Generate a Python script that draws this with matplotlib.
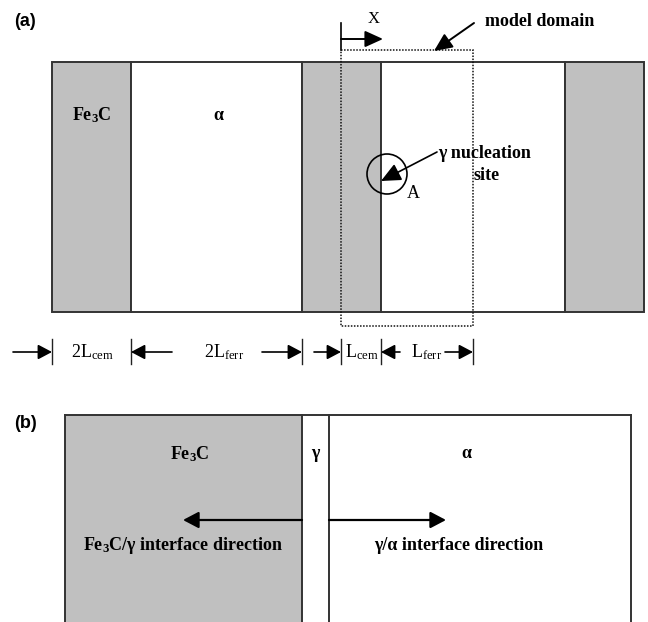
import matplotlib
matplotlib.use("Agg")
import matplotlib.pyplot as plt
from matplotlib.patches import Rectangle, Circle

plt.rcParams['mathtext.fontset'] = 'custom'
plt.rcParams['mathtext.rm'] = 'Liberation Serif'
plt.rcParams['mathtext.it'] = 'Liberation Serif:italic'
plt.rcParams['mathtext.bf'] = 'Liberation Serif:bold'

SERIF = 'Liberation Serif'
SANS = 'Liberation Sans'
GREY = '#c0c0c0'
EDGE = '#333333'

# ---- panel (a): lamellar structure (schematic coordinates) ----
a_bounds = [52, 131, 302, 381, 565, 644]
a_phase_is_cem = [True, False, True, False, True]
a_top, a_bot = 62, 312
a_labels = [r'$\mathbf{Fe_3C}$', 'α']
a_label_x = [92, 218]
a_label_y = 115

# model domain
dom_x = [341, 473]
dom_y = [50, 326]

# nucleation site
site_xy = (387, 174)
site_r = 20

# dimension row
dim_ticks = [52, 131, 302, 341, 381, 473]
dim_labels = [r'$2\mathrm{L}_{\mathrm{cem}}$', r'$2\mathrm{L}_{\mathrm{ferr}}$',
              r'$\mathrm{L}_{\mathrm{cem}}$', r'$\mathrm{L}_{\mathrm{ferr}}$']
dim_label_x = [92, 224, 362, 427]
dim_arrows = [(13, 52), (172, 131), (262, 302), (314, 341), (400, 381), (445, 473)]
dim_y = 352

# ---- panel (b) ----
b_bounds = [65, 302, 329, 631]
b_top, b_bot = 415, 640
b_labels = [r'$\mathbf{Fe_3C}$', 'γ', 'α']
b_label_x = [190, 315, 466]
b_label_y = 454
b_arrows = [(302, 183), (329, 446)]
b_arrow_y = 520
b_texts = [r'$\mathbf{Fe_3C}$/γ interface direction', 'γ/α interface direction']
b_text_x = [183, 459]
b_text_y = 545

fig = plt.figure(figsize=(6.48, 6.22), dpi=100)
ax = fig.add_axes([0, 0, 1, 1])
ax.set_xlim(0, 648)
ax.set_ylim(622, 0)
ax.axis('off')


def arrow(x0, y0, x1, y1, hl=0.95, hw=0.5, lw=1.4):
    ax.annotate('', xy=(x1, y1), xytext=(x0, y0),
                arrowprops=dict(arrowstyle=f'-|>,head_length={hl},head_width={hw}',
                                lw=lw, color='black', shrinkA=0, shrinkB=0,
                                mutation_scale=10))


# panel (a) blocks
for i in range(len(a_bounds) - 1):
    x0, x1 = a_bounds[i], a_bounds[i + 1]
    ax.add_patch(Rectangle((x0, a_top), x1 - x0, a_bot - a_top,
                           facecolor=GREY if a_phase_is_cem[i] else 'white',
                           edgecolor=EDGE, lw=1.4, zorder=1))

for lab, x in zip(a_labels, a_label_x):
    ax.text(x, a_label_y, lab, family=SERIF, fontweight='bold', fontsize=13,
            ha='center', va='center')

# model domain dotted box
ax.add_patch(Rectangle((dom_x[0], dom_y[0]), dom_x[1] - dom_x[0], dom_y[1] - dom_y[0],
                       fill=False, edgecolor='#111111', lw=1.1, linestyle=(0, (1, 1)), zorder=3))

# X arrow
ax.plot([dom_x[0], dom_x[0]], [23, dom_y[0]], color='black', lw=1.2)
arrow(dom_x[0], 39, 383, 39, hl=1.1, hw=0.5)
ax.text(374, 19, 'X', family=SERIF, fontsize=12, ha='center', va='center')

# model domain label
ax.text(485, 22, 'model domain', family=SERIF, fontweight='bold', fontsize=13,
        ha='left', va='center')
arrow(474, 23, 434, 51, hl=1.1, hw=0.5)

# nucleation site
ax.add_patch(Circle(site_xy, site_r, fill=False, edgecolor='black', lw=1.2, zorder=4))
arrow(437, 152, 381, 181, hl=1.2, hw=0.55, lw=1.2)
ax.text(438, 153, 'γ nucleation', family=SERIF, fontweight='bold', fontsize=13,
        ha='left', va='center')
ax.text(473, 175, 'site', family=SERIF, fontweight='bold', fontsize=13,
        ha='left', va='center')
ax.text(413, 193, 'A', family=SERIF, fontsize=13, ha='center', va='center')

# dimension row
for x in dim_ticks:
    ax.plot([x, x], [339, 364], color='#222222', lw=1.0)
for (x0, x1) in dim_arrows:
    arrow(x0, dim_y, x1, dim_y, hl=0.85, hw=0.45, lw=1.2)
for lab, x in zip(dim_labels, dim_label_x):
    ax.text(x, dim_y, lab, family=SERIF, fontsize=13, ha='center', va='center')

# panel letters
ax.text(14, 21, '(a)', family=SANS, fontweight='bold', fontsize=13, ha='left', va='center')
ax.text(14, 423, '(b)', family=SANS, fontweight='bold', fontsize=13, ha='left', va='center')

# panel (b)
ax.add_patch(Rectangle((b_bounds[0], b_top), b_bounds[1] - b_bounds[0], b_bot - b_top,
                       facecolor=GREY, edgecolor='none', zorder=1))
ax.plot([b_bounds[0], b_bounds[-1]], [b_top, b_top], color=EDGE, lw=1.4, zorder=2)
for x in b_bounds:
    ax.plot([x, x], [b_top, b_bot], color=EDGE, lw=1.4, zorder=2)

for lab, x in zip(b_labels, b_label_x):
    ax.text(x, b_label_y, lab, family=SERIF, fontweight='bold', fontsize=13,
            ha='center', va='center')
for (x0, x1) in b_arrows:
    arrow(x0, b_arrow_y, x1, b_arrow_y, hl=0.95, hw=0.5, lw=1.6)
for t, x in zip(b_texts, b_text_x):
    ax.text(x, b_text_y, t, family=SERIF, fontweight='bold', fontsize=13,
            ha='center', va='center')

fig.savefig('out.png', dpi=100)
